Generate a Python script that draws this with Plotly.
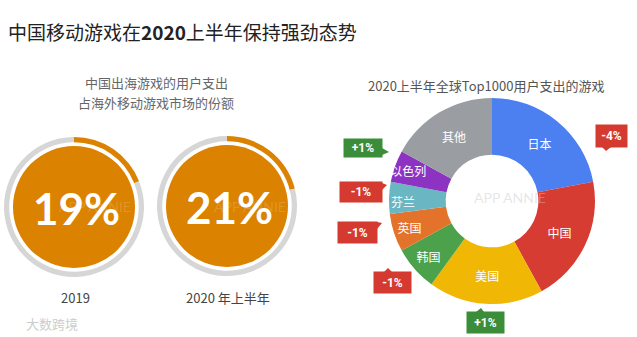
import plotly.graph_objects as go

W, H = 637, 337

# ---- data ----
share_years = ["2019", "2020 年上半年"]
share_values = [19, 21]  # % of overseas mobile game spend

regions = ["日本", "中国", "美国", "韩国", "英国", "芬兰", "以色列", "其他"]
region_share = [22, 20, 18, 7, 6, 5, 5, 17]
region_colors = ["#4C7FEF", "#D73C32", "#F1B705", "#4CA14B", "#E3732B",
                 "#6BB6C3", "#8C33C2", "#9A9DA1"]

change_labels = ["-4%", "+1%", "-1%", "-1%", "-1%", "+1%"]


def px(x, y):
    """pixel position -> paper coordinates"""
    return x / W, 1 - y / H


def dom(cx, cy, r):
    return dict(x=[(cx - r) / W, (cx + r) / W], y=[1 - (cy + r) / H, 1 - (cy - r) / H])


def note(x, y, text, font, xanchor="center", **kw):
    a, b = px(x, y)
    return dict(x=a, y=b, xref="paper", yref="paper", xanchor=xanchor, yanchor="middle",
                showarrow=False, text=text, font=font, **kw)


ORANGE = "#DB8300"
RING_GREY = "#D6D6D6"
RED = "#D43A2F"
GREEN = "#3B8D39"
CJK = "Noto Sans CJK SC"

fig = go.Figure()

# ---- share rings ----
circle_centres = [(74, 207), (227, 206)]
for (cx, cy), v in zip(circle_centres, share_values):
    fig.add_trace(go.Pie(values=[1], marker=dict(colors=[ORANGE]), textinfo="none",
                         hoverinfo="skip", showlegend=False, sort=False,
                         domain=dom(cx, cy, 61)))
    fig.add_trace(go.Pie(values=[v, 100 - v], marker=dict(colors=[ORANGE, RING_GREY]),
                         hole=0.925, textinfo="none", hoverinfo="skip", showlegend=False,
                         sort=False, direction="clockwise", rotation=0,
                         domain=dom(cx, cy, 70)))

# ---- regional donut ----
fig.add_trace(go.Pie(labels=regions, values=region_share,
                     marker=dict(colors=region_colors),
                     hole=0.45, sort=False, direction="clockwise", rotation=0,
                     textinfo="label", textposition="inside",
                     insidetextorientation="horizontal",
                     textfont=dict(color="white", size=12, family=CJK),
                     hoverinfo="label+percent", showlegend=False,
                     domain=dom(492, 201, 103)))

ann = []
shapes = []

# title
ann.append(note(6, 32, "中国移动游戏在<b>2020</b>上半年保持强劲态势",
                dict(size=19, color="#222222", family=CJK), xanchor="left"))

# subtitles
sub_font = dict(size=13, color="#666666", family=CJK)
ann.append(note(156, 83, "中国出海游戏的用户支出", sub_font))
ann.append(note(156, 102, "占海外移动游戏市场的份额", sub_font))
ann.append(note(486, 86, "2020上半年全球Top1000用户支出的游戏",
                dict(size=13, color="#555555", family=CJK)))

# faint watermarks
for cx, cy, col in [(95, 206, "rgba(255,255,255,0.16)"), (250, 206, "rgba(255,255,255,0.16)"),
                    (510, 197, "rgba(200,200,200,0.45)")]:
    ann.append(note(cx, cy, "APP ANNIE", dict(size=14, color=col, family="Lato")))
ann.append(note(52, 323, "大数跨境", dict(size=13, color="#cccccc", family=CJK)))

# percentage values and year labels
for (cx, cy), v, yr in zip(circle_centres, share_values, share_years):
    ann.append(note(cx + 2, cy + 1, f"<b>{v}%</b>",
                    dict(size=44, color="white", family="Lato")))
    ann.append(note(cx + 1, 297, yr, dict(size=13, color="#444444", family=CJK)))

# change badges: (box centre, box size, pointer triangle)
badge_layout = [
    ((611, 136), (31, 22), [(602, 147), (611, 147), (606, 151)]),
    ((363, 148), (38, 18), [(382, 148), (382, 155), (389, 152)]),
    ((361, 192), (42, 20), [(382, 183), (382, 190), (387, 185)]),
    ((357, 232), (39, 21), [(377, 222), (377, 229), (382, 223)]),
    ((392, 282), (37, 21), [(384, 272), (392, 272), (388, 268)]),
    ((485, 322), (37, 21), [(476, 312), (484, 312), (481, 308)]),
]
for lab, ((cx, cy), (bw, bh), tri) in zip(change_labels, badge_layout):
    col = GREEN if lab.startswith("+") else RED
    ann.append(note(cx, cy, f"<b>{lab}</b>", dict(size=12, color="white", family="Roboto"),
                    bgcolor=col, width=bw, height=bh, borderpad=0))
    pts = [px(a, b) for a, b in tri]
    path = "M " + " L ".join(f"{a},{b}" for a, b in pts) + " Z"
    shapes.append(dict(type="path", xref="paper", yref="paper", path=path,
                       fillcolor=col, line=dict(width=0)))

fig.update_layout(width=W, height=H, margin=dict(l=0, r=0, t=0, b=0),
                  paper_bgcolor="white", plot_bgcolor="white",
                  uniformtext=dict(minsize=12, mode="show"),
                  annotations=ann, shapes=shapes, showlegend=False)

fig.write_html("out.html")
